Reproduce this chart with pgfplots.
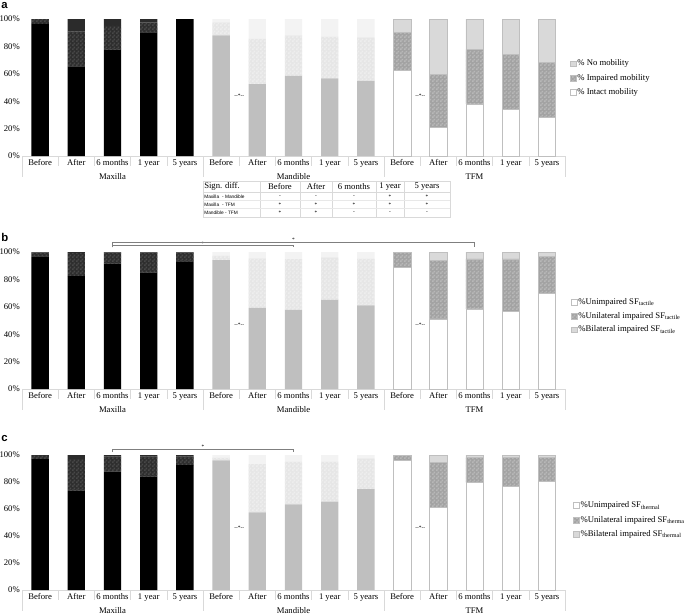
\documentclass[border=0pt]{standalone}
\usepackage{fontspec}
\setmainfont{Liberation Serif}
\newfontfamily\sansf{Liberation Sans}
\usepackage{pgfplots}
\usepackage{pgfplotstable}
\pgfplotsset{compat=1.18}
\usetikzlibrary{patterns}

\pgfdeclarepatternformonly{finecheck}{\pgfpointorigin}{\pgfqpoint{3pt}{3pt}}{\pgfqpoint{3pt}{3pt}}{%
  \pgfpathrectangle{\pgfpointorigin}{\pgfqpoint{1.5pt}{1.5pt}}%
  \pgfpathrectangle{\pgfqpoint{1.5pt}{1.5pt}}{\pgfqpoint{1.5pt}{1.5pt}}%
  \pgfusepath{fill}}

\definecolor{cMaxB}{HTML}{2E2E2E}
\definecolor{cMaxBp}{HTML}{484848}
\definecolor{cMaxC}{HTML}{2B2B2B}
\definecolor{cManA}{HTML}{BFBFBF}
\definecolor{cManB}{HTML}{E6E6E6}
\definecolor{cManBp}{HTML}{EEEEEE}
\definecolor{cManC}{HTML}{F3F3F3}
\definecolor{cTfmB}{HTML}{A3A3A3}
\definecolor{cTfmBp}{HTML}{B8B8B8}
\definecolor{cTfmC}{HTML}{D9D9D9}
\definecolor{cTfmLine}{HTML}{BFBFBF}
\definecolor{sepgray}{HTML}{D9D9D9}
\definecolor{brk}{HTML}{7F7F7F}

\newcommand\lab{\fontsize{6.5}{7}\selectfont}
\newcommand\tinyf{\fontsize{4}{4.5}\selectfont}

% ---------------- data (x, bottom, middle, top) ----------------
% Panel a: intact / impaired / no mobility
\pgfplotstableread{
x a b c
0 96.5 3.5 0
1 65.4 25.6 9.0
2 77.6 17.4 5.0
3 90.2 7.3 2.5
4 100 0 0
}\aMax
\pgfplotstableread{
x a b c
5 88.0 9.5 2.5
6 52.4 33.2 14.4
7 58.5 29.5 12.0
8 56.6 30.4 13.0
9 54.9 31.7 13.4
}\aMan
\pgfplotstableread{
x a b c
10 62.4 27.8 9.8
11 21.0 38.3 40.7
12 38.0 39.6 22.4
13 34.0 40.0 26.0
14 28.3 40.0 31.7
}\aTfm
% Panel b: unimpaired / unilateral / bilateral (tactile)
\pgfplotstableread{
x a b c
0 96.8 2.7 0.5
1 82.4 17.0 0.6
2 91.5 8.0 0.5
3 84.9 14.6 0.5
4 93.2 6.3 0.5
}\bMax
\pgfplotstableread{
x a b c
5 94.1 3.0 2.9
6 59.3 36.0 4.7
7 57.8 37.0 5.2
8 65.1 31.0 3.9
9 61.0 34.0 5.0
}\bMan
\pgfplotstableread{
x a b c
10 89.0 10.5 0.5
11 51.2 42.5 6.3
12 58.5 36.5 5.0
13 56.6 38.4 5.0
14 70.0 27.0 3.0
}\bTfm
% Panel c: unimpaired / unilateral / bilateral (thermal)
\pgfplotstableread{
x a b c
0 97.0 3.0 0
1 73.6 23.4 3.0
2 87.7 11.3 1.0
3 84.0 15.0 1.0
4 92.6 6.4 1.0
}\cMax
\pgfplotstableread{
x a b c
5 96.0 2.0 2.0
6 57.5 35.8 6.7
7 63.5 31.5 5.0
8 65.4 29.6 5.0
9 74.8 22.7 2.5
}\cMan
\pgfplotstableread{
x a b c
10 96.0 4.0 0
11 61.0 33.6 5.4
12 79.8 18.2 2.0
13 76.5 21.5 2.0
14 80.2 17.8 2.0
}\cTfm

\pgfplotsset{
  panel/.style={scale only axis, width=407.25pt, xmin=-0.5, xmax=14.5,
    ymin=0, ymax=100, ybar stacked, bar width=13pt, clip=false},
  mainax/.style={
    axis x line*=bottom, axis y line*=left,
    x axis line style={draw=sepgray, line width=0.5pt},
    y axis line style={draw=none},
    xtick={0,...,14},
    xticklabels={Before,After,6 months,1 year,5 years,Before,After,6 months,1 year,5 years,Before,After,6 months,1 year,5 years},
    ytick={0,20,...,100},
    yticklabel={\pgfmathprintnumber{\tick}\%},
    /pgf/number format/assume math mode=true,
    major tick length=0pt, tick style={draw=none},
    xticklabel style={anchor=north, inner sep=0pt, yshift=-2.5pt},
    yticklabel style={anchor=east, inner sep=0pt, xshift=-1.5pt},
    tick label style={font=\lab}},
  sMaxA/.style={fill=black, draw=none},
  sMaxB/.style={fill=cMaxB, draw=none, postaction={pattern=finecheck, pattern color=cMaxBp}},
  sMaxC/.style={fill=cMaxC, draw=none},
  sManA/.style={fill=cManA, draw=none},
  sManB/.style={fill=cManB, draw=none, postaction={pattern=finecheck, pattern color=cManBp}},
  sManC/.style={fill=cManC, draw=none},
  sTfmA/.style={fill=white, draw=cTfmLine, line width=0.4pt},
  sTfmB/.style={fill=cTfmB, draw=cTfmLine, line width=0.4pt, postaction={pattern=finecheck, pattern color=cTfmBp}},
  sTfmC/.style={fill=cTfmC, draw=cTfmLine, line width=0.4pt},
  sq legend/.style={legend image code/.code={\draw[##1] (0pt,-2.2pt) rectangle (4.4pt,2.2pt);}},
  leg/.style={legend style={draw=none, fill=none, font=\lab, anchor=west,
    inner sep=0pt, row sep=#1, legend cell align=left,
    nodes={inner sep=0.6pt, text height=4.6pt, text depth=1.3pt}}},
}

\newcommand\seps{%
  \pgfplotsinvokeforeach{0.5,1.5,2.5,3.5,5.5,6.5,7.5,8.5,10.5,11.5,12.5,13.5}{\draw[sepgray,line width=0.4pt] (axis cs:##1,0) -- ++(0pt,-7.5pt);}%
  \pgfplotsinvokeforeach{-0.5,4.5,9.5,14.5}{\draw[sepgray,line width=0.4pt] (axis cs:##1,0) -- ++(0pt,-16pt);}%
  \node[font=\lab,anchor=base] at ([yshift=-17.5pt]axis cs:2,0) {Maxilla};%
  \node[font=\lab,anchor=base] at ([yshift=-17.5pt]axis cs:7,0) {Mandible};%
  \node[font=\lab,anchor=base] at ([yshift=-17.5pt]axis cs:12,0) {TFM};%
}

\begin{document}
\begin{tikzpicture}
% ================= Panel a =================
\begin{axis}[panel, mainax, at={(16.5pt,-117pt)}, anchor=south west, height=102.75pt]
\addplot[sMaxA] table[x=x,y=a]{\aMax};
\addplot[sMaxB] table[x=x,y=b]{\aMax};
\addplot[sMaxC] table[x=x,y=c]{\aMax};
\seps
\node[font=\tinyf] at (axis cs:5.5,44) {-{}-*-{}-};
\node[font=\tinyf] at (axis cs:10.5,44) {-{}-*-{}-};
\end{axis}
\begin{axis}[panel, hide axis, at={(16.5pt,-117pt)}, anchor=south west, height=102.75pt]
\addplot[sManA] table[x=x,y=a]{\aMan};
\addplot[sManB] table[x=x,y=b]{\aMan};
\addplot[sManC] table[x=x,y=c]{\aMan};
\end{axis}
\begin{axis}[panel, hide axis, at={(16.5pt,-117pt)}, anchor=south west, height=102.75pt,
  leg=3.6pt, legend style={at={(1.009,0.569)}}, reverse legend]
\addplot[sTfmA, sq legend] table[x=x,y=a]{\aTfm};
\addlegendentry{\% Intact mobility}
\addplot[sTfmB, sq legend] table[x=x,y=b]{\aTfm};
\addlegendentry{\% Impaired mobility}
\addplot[sTfmC, sq legend] table[x=x,y=c]{\aTfm};
\addlegendentry{\% No mobility}
\end{axis}

% ================= Panel b =================
\begin{axis}[panel, mainax, at={(16.5pt,-291.75pt)}, anchor=south west, height=102.75pt]
\addplot[sMaxA] table[x=x,y=a]{\bMax};
\addplot[sMaxB] table[x=x,y=b]{\bMax};
\addplot[sMaxC] table[x=x,y=c]{\bMax};
\seps
\node[font=\tinyf] at (axis cs:5.5,47) {-{}-*-{}-};
\node[font=\tinyf] at (axis cs:10.5,47) {-{}-*-{}-};
\draw[brk,line width=0.6pt] (axis cs:2,103.3) -- (axis cs:2,107.3) -- (axis cs:12,107.3) -- (axis cs:12,103.3);
\draw[brk,line width=0.6pt] (axis cs:2,103.3) -- (axis cs:2,104.9) -- (axis cs:7,104.9) -- (axis cs:7,103.3);
\node[font=\tinyf,inner sep=0pt] at (axis cs:4.5,106.2) {*};
\node[font=\tinyf,inner sep=0pt] at (axis cs:7,108.7) {*};
\end{axis}
\begin{axis}[panel, hide axis, at={(16.5pt,-291.75pt)}, anchor=south west, height=102.75pt]
\addplot[sManA] table[x=x,y=a]{\bMan};
\addplot[sManB] table[x=x,y=b]{\bMan};
\addplot[sManC] table[x=x,y=c]{\bMan};
\end{axis}
\begin{axis}[panel, hide axis, at={(16.5pt,-291.75pt)}, anchor=south west, height=102.75pt,
  leg=3.2pt, legend style={at={(1.011,0.533)}}]
\addplot[sTfmA, sq legend] table[x=x,y=a]{\bTfm};
\addlegendentry{\%Unimpaired SF\textsubscript{tactile}}
\addplot[sTfmB, sq legend] table[x=x,y=b]{\bTfm};
\addlegendentry{\%Unilateral impaired SF\textsubscript{tactile}}
\addplot[sTfmC, sq legend] table[x=x,y=c]{\bTfm};
\addlegendentry{\%Bilateral impaired SF\textsubscript{tactile}}
\end{axis}

% ================= Panel c =================
\begin{axis}[panel, mainax, at={(16.5pt,-442.5pt)}, anchor=south west, height=101.25pt]
\addplot[sMaxA] table[x=x,y=a]{\cMax};
\addplot[sMaxB] table[x=x,y=b]{\cMax};
\addplot[sMaxC] table[x=x,y=c]{\cMax};
\seps
\node[font=\tinyf] at (axis cs:5.5,46) {-{}-*-{}-};
\node[font=\tinyf] at (axis cs:10.5,46) {-{}-*-{}-};
\draw[brk,line width=0.6pt] (axis cs:2,102.2) -- (axis cs:2,104.4) -- (axis cs:7,104.4) -- (axis cs:7,102.2);
\node[font=\tinyf,inner sep=0pt] at (axis cs:4.5,106) {*};
\end{axis}
\begin{axis}[panel, hide axis, at={(16.5pt,-442.5pt)}, anchor=south west, height=101.25pt]
\addplot[sManA] table[x=x,y=a]{\cMan};
\addplot[sManB] table[x=x,y=b]{\cMan};
\addplot[sManC] table[x=x,y=c]{\cMan};
\end{axis}
\begin{axis}[panel, hide axis, at={(16.5pt,-442.5pt)}, anchor=south west, height=101.25pt,
  leg=3.6pt, legend style={at={(1.015,0.519)}}]
\addplot[sTfmA, sq legend] table[x=x,y=a]{\cTfm};
\addlegendentry{\%Unimpaired SF\textsubscript{thermal}}
\addplot[sTfmB, sq legend] table[x=x,y=b]{\cTfm};
\addlegendentry{\%Unilateral impaired SF\textsubscript{thermal}}
\addplot[sTfmC, sq legend] table[x=x,y=c]{\cTfm};
\addlegendentry{\%Bilateral impaired SF\textsubscript{thermal}}
\end{axis}

% ================= panel letters and table (pixel units) =================
\begin{scope}[x=0.75pt,y=-0.75pt]
\node[font=\sansf\bfseries\fontsize{8.5}{9}\selectfont,anchor=base west,inner sep=0pt] at (1,8) {a};
\node[font=\sansf\bfseries\fontsize{8.5}{9}\selectfont,anchor=base west,inner sep=0pt] at (1,241) {b};
\node[font=\sansf\bfseries\fontsize{8.5}{9}\selectfont,anchor=base west,inner sep=0pt] at (1,441) {c};
% significance table
\draw[sepgray,line width=0.4pt] (203,181) rectangle (450,217);
\foreach \xx in {260,300,332,376,404} \draw[sepgray,line width=0.4pt] (\xx,181) -- (\xx,217);
\draw[sepgray,line width=0.4pt] (203,192) -- (450,192);
\draw[sepgray!60,line width=0.3pt] (203,200.5) -- (450,200.5);
\draw[sepgray!60,line width=0.3pt] (203,208.5) -- (450,208.5);
\node[font=\lab,anchor=west,inner sep=0pt] at (204,186.5) {Sign. diff.};
\node[font=\lab,inner sep=0pt] at (280,186.5) {Before};
\node[font=\lab,inner sep=0pt] at (316,186.5) {After};
\node[font=\lab,inner sep=0pt] at (354,186.5) {6 months};
\node[font=\lab,inner sep=0pt] at (390,186.5) {1 year};
\node[font=\lab,inner sep=0pt] at (427,186.5) {5 years};
\node[font=\sansf\fontsize{3.6}{4}\selectfont,anchor=west,inner sep=0pt] at (204,196.5) {Maxilla\hspace{2.2pt}- Mandible};
\node[font=\sansf\fontsize{3.6}{4}\selectfont,anchor=west,inner sep=0pt] at (204,204.5) {Maxilla\hspace{2.2pt}- TFM};
\node[font=\sansf\fontsize{3.6}{4}\selectfont,anchor=west,inner sep=0pt] at (204,212.5) {Mandible - TFM};
\foreach \xx/\v in {280/-,316/-,354/-,390/*,427/*} \node[font=\tinyf,inner sep=0pt] at (\xx,196.5) {\v};
\foreach \xx/\v in {280/*,316/*,354/*,390/*,427/*} \node[font=\tinyf,inner sep=0pt] at (\xx,204.5) {\v};
\foreach \xx/\v in {280/*,316/*,354/-,390/-,427/-} \node[font=\tinyf,inner sep=0pt] at (\xx,212.5) {\v};
\end{scope}

\pgfresetboundingbox
\useasboundingbox (0pt,0pt) rectangle (513pt,-460.5pt);
\end{tikzpicture}
\end{document}
